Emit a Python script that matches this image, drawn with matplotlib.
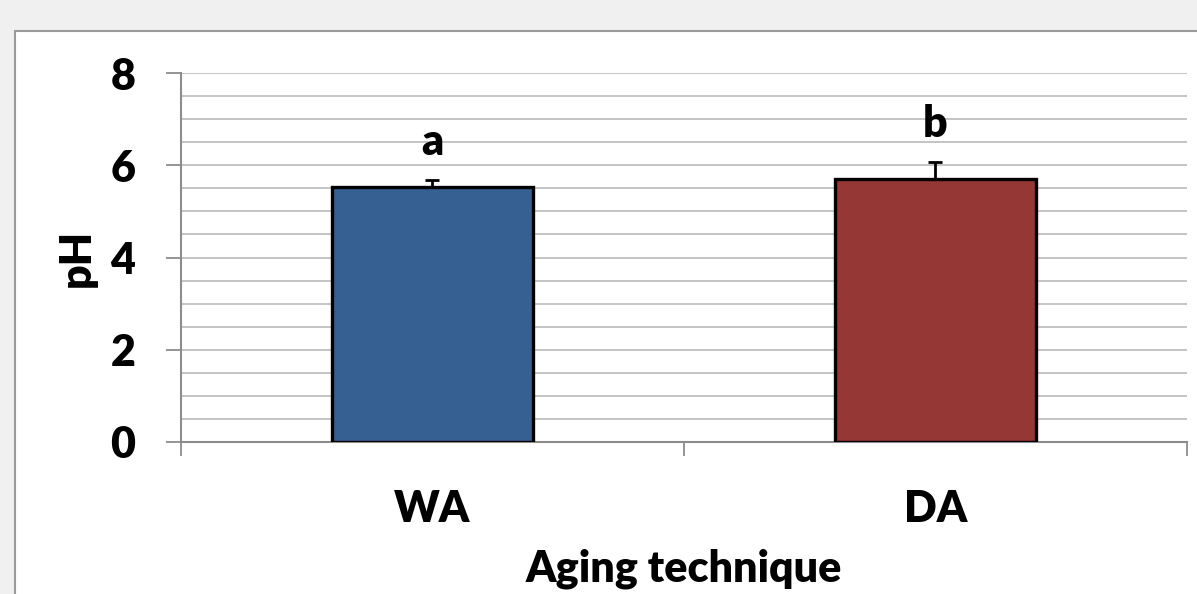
import matplotlib.pyplot as plt
import matplotlib.patches as patches
import numpy as np

categories = ['WA', 'DA']
ph_means = [5.53, 5.71]
ph_err = [0.15, 0.35]
sig_letters = ['a', 'b']
bar_colors = ['#376092', '#953735']

plt.rcParams['font.family'] = ['Lato', 'DejaVu Sans']
plt.rcParams['font.weight'] = 'heavy'
FS = 31

fig = plt.figure(figsize=(11.97, 5.94), dpi=100)
fig.patch.set_facecolor('#f0f0f0')

# white chart panel like an office chart frame
panel = patches.Rectangle((15 / 1197, -0.1), 1.1, 1 - 31 / 594 + 0.1,
                          transform=fig.transFigure, facecolor='white',
                          edgecolor='#9a9a9a', linewidth=1.5, zorder=-10)
fig.patches.append(panel)

ax = fig.add_axes([181 / 1197, 1 - 442 / 594, (1187 - 181) / 1197, (442 - 73) / 594])
ax.set_facecolor('none')
ax.set_zorder(1)

x = np.arange(len(categories))
ax.bar(x, ph_means, width=0.4, color=bar_colors, edgecolor='black',
       linewidth=2.4, zorder=3)
ax.errorbar(x, ph_means, yerr=[np.zeros(len(x)), ph_err], fmt='none',
            ecolor='black', elinewidth=2, capsize=5, capthick=2, zorder=4)

for xi, m, e, lab in zip(x, ph_means, ph_err, sig_letters):
    ax.text(xi, m + e + 0.55, lab, ha='center', va='baseline',
            fontsize=FS, fontweight='heavy')

ax.set_xlim(-0.5, 1.5)
ax.set_ylim(0, 8)
ax.set_yticks(np.arange(0, 9, 2))
ax.set_yticks(np.arange(0, 8.01, 0.5), minor=True)
ax.yaxis.grid(True, which='both', color='#bfbfbf', linewidth=1.3, zorder=0)
ax.set_axisbelow(True)

ax.set_xticks(x)
ax.set_xticklabels(categories)
ax.set_xticks([-0.5, 0.5, 1.5], minor=True)
ax.tick_params(axis='x', which='major', length=0, pad=34, labelsize=FS)
ax.tick_params(axis='x', which='minor', length=10, width=1.3, color='#8c8c8c', direction='out')
ax.tick_params(axis='y', which='major', length=11, width=1.3, color='#8c8c8c',
               pad=22, labelsize=FS)
ax.tick_params(axis='y', which='minor', length=0)

for s in ['top', 'right']:
    ax.spines[s].set_visible(False)
for s in ['left', 'bottom']:
    ax.spines[s].set_color('#8c8c8c')
    ax.spines[s].set_linewidth(1.5)

ax.set_ylabel('pH', fontsize=FS, fontweight='heavy', labelpad=10)
ax.set_xlabel('Aging technique', fontsize=FS, fontweight='heavy', labelpad=14)

fig.savefig('out.png', dpi=100, facecolor=fig.get_facecolor())
